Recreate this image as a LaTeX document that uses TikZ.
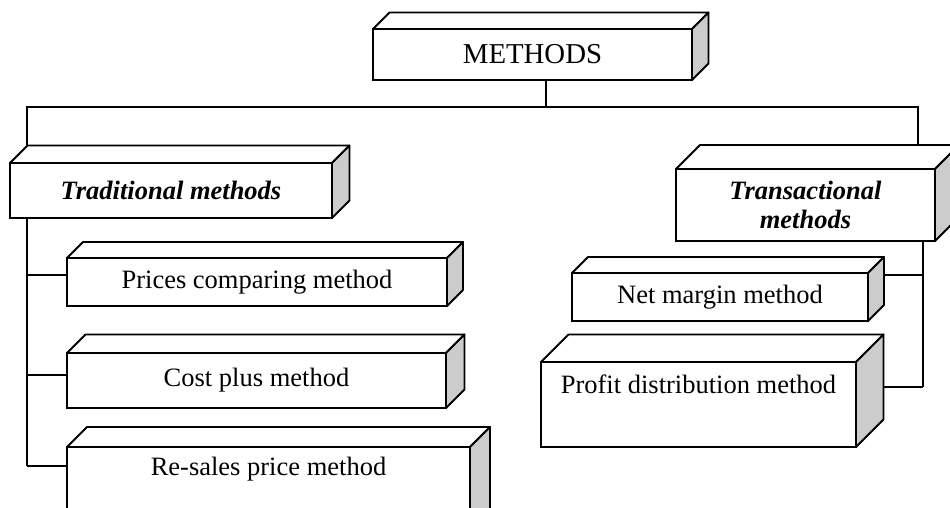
\documentclass[tikz,border=0pt]{standalone}
\usepackage{fontspec}
\setmainfont{Liberation Serif}
\tikzset{
  front/.style={draw, fill=white, rectangle, inner sep=0pt, outer sep=0pt, align=center, line width=1.8pt},
  topface/.style={draw, fill=white, line width=1.8pt, line join=round},
  sideface/.style={draw, fill=black!20, line width=1.8pt, line join=round},
  conn/.style={draw, line width=1.7pt},
  lbl/.style={inner sep=0pt, align=center},
  bigtxt/.style={font=\fontsize{28.8}{31}\selectfont},
  txt/.style={font=\fontsize{26.5}{28.5}\selectfont},
  ittxt/.style={font=\fontsize{26.5}{28.5}\selectfont\bfseries\itshape},
}
% #1 name, #2 x1, #3 y1, #4 x2, #5 y2, #6 depth, #7 style, #8 text
\newcommand\cubebox[8]{%
  \draw[topface] (#2,#3) -- ++(#6,-#6) -- (#4+#6,#3-#6) -- (#4,#3) -- cycle;
  \draw[sideface] (#4,#3) -- (#4+#6,#3-#6) -- (#4+#6,#5-#6) -- (#4,#5) -- cycle;
  \node[front, #7, minimum width={(#4-#2)*1pt}, minimum height={(#5-#3)*1pt}] (#1) at ({(#2+#4)/2},{(#3+#5)/2}) {#8};
  \coordinate (#1-bl) at (#2+#6,#3-#6);
  \coordinate (#1-br) at (#4+#6,#3-#6);
}
\begin{document}
\begin{tikzpicture}[x=1pt,y=-1pt]
\path[use as bounding box, clip] (0,0) rectangle (950,508);
\fill[white] (0,0) rectangle (950,508);

% boxes
\cubebox{M}{373}{29}{692}{80}{16.5}{bigtxt}{METHODS}
\cubebox{T}{10}{163}{332}{218}{17.5}{ittxt}{Traditional methods}
\cubebox{X}{676}{169}{935}{241}{24}{ittxt}{Transactional\\methods}
\cubebox{P}{67}{258}{447}{306}{16}{txt}{Prices comparing method}
\cubebox{C}{67}{353}{446}{408}{18.5}{txt}{Cost plus method}
\cubebox{R}{67}{447}{470}{531}{20}{txt}{}
\cubebox{N}{572}{273}{868}{321}{16}{txt}{Net margin method}
\cubebox{F}{541}{362}{856}{447}{27.5}{txt}{}
\node[lbl, txt] (Rt) at ([yshift=-22pt]R.north) {Re-sales price method};
\node[lbl, txt] (Ft) at ([yshift=-22pt]F.north) {Profit distribution method};

% junction coordinates
\coordinate (jm) at (546,107);
\coordinate (jL) at (27,107);
\coordinate (jR) at (918,107);
\coordinate (s1) at (27,275);
\coordinate (s2) at (27,375);
\coordinate (s3) at (27,466);
\coordinate (r1) at (923,275);
\coordinate (r2) at (923,387);

% connectors
\draw[conn] (M.south -| jm) -- (jm);
\draw[conn] (jL |- T-bl) -- (jL) -- (jR) -- (jR |- X-bl);
\draw[conn] (T.south -| jL) -- (s3);
\draw[conn] (s1) -- (s1 -| P.west);
\draw[conn] (s2) -- (s2 -| C.west);
\draw[conn] (s3) -- (s3 -| R.west);
\draw[conn] (X.south -| r1) -- (r2);
\draw[conn] (r1) -- (r1 -| N-br);
\draw[conn] (r2) -- (r2 -| F-br);
\end{tikzpicture}
\end{document}
